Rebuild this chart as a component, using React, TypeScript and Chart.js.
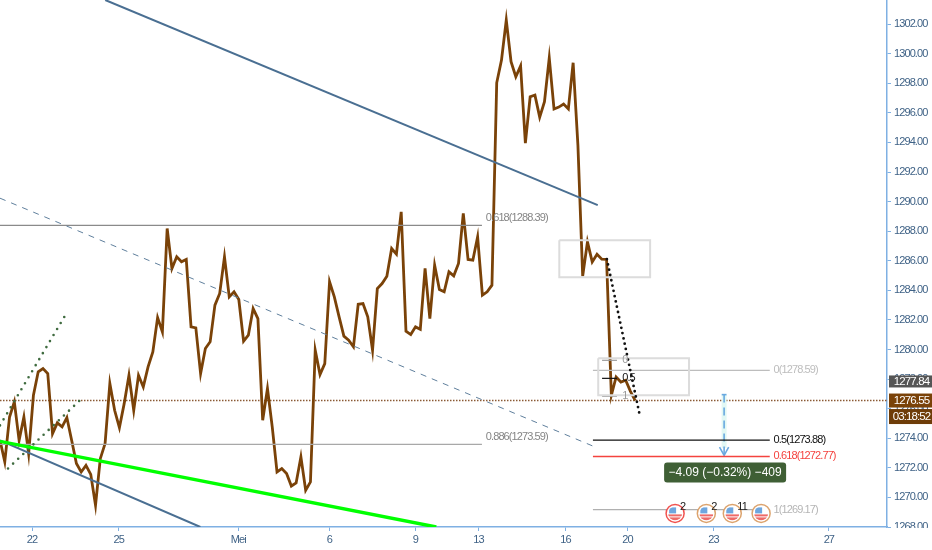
import React, { useEffect, useRef } from "react";
import { Chart, registerables } from "chart.js";

Chart.register(...registerables);

const FONT = '"Liberation Sans", sans-serif';
const TIGHT = "-0.9px";

// Close price, one value per bar
const closes = [
  1273.86, 1272.4, 1275.44, 1276.46, 1273.86, 1275.44, 1272.96, 1276.91, 1278.49, 1278.71,
  1278.37, 1274.31, 1275.04, 1274.77, 1275.4, 1273.86, 1272.29, 1271.72, 1272.17, 1271.56,
  1269.47, 1272.62, 1273.64, 1277.7, 1275.89, 1274.72, 1276.34, 1278.26, 1275.89, 1278.26,
  1277.47, 1278.83, 1279.84, 1282.16, 1281.19, 1288.18, 1285.48, 1286.27, 1285.93, 1286.09,
  1281.53, 1281.46, 1278.37, 1280.07, 1280.52, 1283.0, 1283.79, 1286.27, 1283.56, 1283.9,
  1283.38, 1280.56, 1280.97, 1282.77, 1282.09, 1275.22, 1277.36, 1274.77, 1271.72, 1271.95,
  1271.61, 1270.77, 1270.98, 1272.74, 1270.48, 1271.05, 1279.95, 1278.31, 1279.05, 1284.58,
  1283.56, 1282.21, 1280.9, 1280.63, 1280.18, 1283.06, 1283.11, 1282.21, 1279.95, 1284.12,
  1284.46, 1284.96, 1286.83, 1286.45, 1289.31, 1281.24, 1281.01, 1281.53, 1281.37, 1285.48,
  1282.09, 1285.7, 1284.06, 1283.9, 1285.25, 1284.98, 1285.82, 1289.2, 1286.09, 1286.04,
  1287.62, 1283.67, 1283.9, 1284.35, 1298.03, 1299.57, 1302.28, 1299.46, 1298.44, 1299.18,
  1293.95, 1297.09, 1297.2, 1295.71, 1296.75, 1299.71, 1296.26, 1296.39, 1296.59, 1296.26,
  1299.39, 1293.82, 1284.96, 1287.28, 1285.92, 1286.44, 1286.11, 1286.09, 1276.9, 1278.14,
  1277.8, 1277.92, 1277.17, 1276.55,
];
const barStep = 0.994;

const tickBars = [6.67, 24.69, 49.58, 68.54, 86.46, 99.58, 117.7, 130.6, 148.5, 172.5];
const tickLabels = ["22", "25", "Mei", "6", "9", "13", "16", "20", "23", "27"];

const lastPrice = 1276.55;
const markPrice = 1277.84;
const countdown = "03:18:52";

// Drawing tools, as [bar, price] pairs
const topTrend = [[21.9, 1303.63], [124.4, 1289.76]];
const dashedTrend = [[0, 1290.23], [124, 1273.39]];
const greenTrend = [[0, 1273.79], [90.8, 1268]];
const lowerTrend = [[0, 1273.86], [41.7, 1268]];
const channelUpper = [[0, 1274.87], [13.96, 1282.52]];
const channelLower = [[1.67, 1271.96], [17.3, 1276.77]];
const forecastDots = [[126.3, 1286.11], [133.1, 1275.62]];
const boxUpper = [[116.4, 1287.39], [135.3, 1287.39], [135.3, 1284.89], [116.4, 1284.89], [116.4, 1287.39]];
const boxLower = [[124.5, 1279.41], [143.4, 1279.41], [143.4, 1276.9], [124.5, 1276.9], [124.5, 1279.41]];

const leftFibBars = [0, 100.3];
const leftFibPrices = [1288.39, 1273.59];
const leftFibRatios = ["0.618", "0.886"];
const leftFibColors = ["#8a8a8a", "#a8a8a8"];

const rightFibBars = [123.4, 160.2];
const rightFibPrices = [1278.59, 1273.88, 1272.77, 1269.17];
const rightFibRatios = ["0", "0.5", "0.618", "1"];
const rightFibColors = ["#bdbdbd", "#111111", "#f4433f", "#b0b0b0"];

const miniFibBars = [125.3, 128.4];
const miniFibPrices = [1279.27, 1278.05, 1276.84];
const miniFibRatios = ["0", "0.5", "1"];
const miniFibColors = ["#9a9a9a", "#111111", "#9a9a9a"];

const measureBar = 150.7;
const measureFrom = 1276.95;
const measureTo = 1272.84;
const measureText = "\u22124.09 (\u22120.32%) \u2212409";

const eventBars = [140.5, 147, 152.4, 158.4];
const eventPrice = 1268.92;
const eventColors = ["#f0524f", "#dca36d", "#dca36d", "#dca36d"];
const eventCounts = ["2", "2", "11", ""];

const pts = (a: number[][]) => a.map(([x, y]) => ({ x, y }));

const seg = (data: number[][], color: string, width: number, dash: number[] = [], cap = "butt", order = 1) => ({
  type: "line",
  data: pts(data),
  borderColor: color,
  borderWidth: width,
  borderDash: dash,
  borderCapStyle: cap,
  pointRadius: 0,
  tension: 0,
  fill: false,
  order,
  clip: true,
});

const overlayPlugin = {
  id: "overlay",
  beforeDraw(chart: any) {
    chart.ctx.letterSpacing = TIGHT;
  },
  afterDatasetsDraw(chart: any) {
    const { ctx, scales, chartArea } = chart;
    const X = scales.x;
    const Y = scales.y;
    ctx.save();
    ctx.textBaseline = "middle";
    ctx.textAlign = "left";

    // Fibonacci labels
    ctx.font = `11px ${FONT}`;
    leftFibPrices.forEach((p, i) => {
      ctx.fillStyle = "#858585";
      ctx.fillText(`${leftFibRatios[i]}(${p.toFixed(2)})`, X.getPixelForValue(101.1), Y.getPixelForValue(p) - 7);
    });
    rightFibPrices.forEach((p, i) => {
      ctx.fillStyle = rightFibColors[i] === "#b0b0b0" ? "#b5b5b5" : rightFibColors[i];
      ctx.fillText(`${rightFibRatios[i]}(${p.toFixed(2)})`, X.getPixelForValue(161), Y.getPixelForValue(p));
    });
    miniFibPrices.forEach((p, i) => {
      ctx.fillStyle = miniFibColors[i];
      ctx.fillText(miniFibRatios[i], X.getPixelForValue(129.5), Y.getPixelForValue(p));
    });

    // Measure label
    const mx = X.getPixelForValue(measureBar);
    const my = Y.getPixelForValue(measureTo) + 17;
    ctx.fillStyle = "#3f5f35";
    ctx.beginPath();
    ctx.roundRect(mx - 60, my - 10, 122, 20, 3);
    ctx.fill();
    ctx.fillStyle = "#ffffff";
    ctx.textAlign = "center";
    ctx.letterSpacing = "0px";
    ctx.font = `12px ${FONT}`;
    ctx.fillText(measureText, mx + 1, my);
    ctx.letterSpacing = TIGHT;

    // Economic events
    eventBars.forEach((b, i) => {
      const cx = X.getPixelForValue(b);
      const cy = Y.getPixelForValue(eventPrice);
      ctx.beginPath();
      ctx.arc(cx, cy, 9, 0, Math.PI * 2);
      ctx.fillStyle = "#ffffff";
      ctx.fill();
      ctx.strokeStyle = eventColors[i];
      ctx.lineWidth = 1.5;
      ctx.stroke();
      ctx.save();
      ctx.beginPath();
      ctx.arc(cx, cy, 7, 0, Math.PI * 2);
      ctx.clip();
      ctx.fillStyle = "#6ea6df";
      ctx.fillRect(cx - 6, cy - 6, 7, 6);
      ctx.fillStyle = "#ee6a68";
      ctx.fillRect(cx - 7, cy + 1, 14, 2);
      ctx.fillRect(cx - 7, cy + 4, 14, 3);
      ctx.restore();
      if (eventCounts[i]) {
        ctx.fillStyle = "#222222";
        ctx.font = `11px ${FONT}`;
        ctx.textAlign = "left";
        ctx.fillText(eventCounts[i], cx + 5, cy - 6);
      }
    });

    // Right side price tags
    const right = chartArea.right;
    const W = chart.width;
    ctx.textAlign = "center";
    ctx.font = `11.5px ${FONT}`;
    const tag = (y: number, h: number, bg: string, text: string) => {
      ctx.fillStyle = bg;
      ctx.fillRect(right + 2, y - h / 2, W - right - 2, h);
      ctx.fillStyle = "#ffffff";
      ctx.fillText(text, (right + W) / 2 + 2, y + 0.5);
    };
    const ym = Y.getPixelForValue(markPrice);
    const yl = Y.getPixelForValue(lastPrice);
    tag(ym, 12, "#555555", markPrice.toFixed(2));
    tag(yl, 14, "#7a4208", lastPrice.toFixed(2));
    tag(yl + 16, 15, "#6e3c08", countdown);

    // The lowest tick label is cut off by the pane edge
    ctx.fillStyle = "#ffffff";
    ctx.fillRect(right + 6, chartArea.bottom + 1, W - right, chart.height - chartArea.bottom);
    ctx.restore();
  },
};

export default function App() {
  const ref = useRef<HTMLCanvasElement | null>(null);
  useEffect(() => {
    if (!ref.current) return;
    const lineColor = "#4a6f92";
    const datasets: any[] = [
      {
        ...seg(closes.map((c, i) => [i * barStep, c]), "#7a4208", 2.8, [], "butt", 5),
        borderJoinStyle: "miter",
      },
      seg([[0, lastPrice], [184.6, lastPrice]], "#8a5a35", 1.4, [1.5, 1.5], "butt", 6),
      seg(topTrend, lineColor, 2),
      seg(dashedTrend, "#5f7f9c", 1, [6, 6]),
      seg(greenTrend, "#00ff00", 3.4),
      seg(lowerTrend, lineColor, 2),
      seg(channelUpper, "#3f6b3f", 2.6, [0, 7], "round"),
      seg(channelLower, "#3f6b3f", 2.6, [0, 7], "round"),
      seg(forecastDots, "#111111", 2.8, [0, 5.4], "round"),
      seg(boxUpper, "#dcdcdc", 2),
      seg(boxLower, "#dcdcdc", 2),
      ...leftFibPrices.map((p, i) => seg(leftFibBars.map((b) => [b, p]), leftFibColors[i], 1.3)),
      ...rightFibPrices.map((p, i) => seg(rightFibBars.map((b) => [b, p]), rightFibColors[i], i === 2 ? 1.6 : 1.3)),
      ...miniFibPrices.map((p, i) => seg(miniFibBars.map((b) => [b, p]), miniFibColors[i], 1.2)),
      seg([[measureBar, measureFrom], [measureBar, measureTo + 0.5]], "#e2f8f4", 5, [], "butt", 3),
      seg([[measureBar, measureFrom], [measureBar, measureTo]], "#6aa9e0", 1.6, [8, 5], "butt", 2),
      seg([[measureBar - 0.5, measureFrom], [measureBar + 0.5, measureFrom]], "#6aa9e0", 1.6, [], "butt", 2),
      seg([[measureBar - 0.95, measureTo + 0.56], [measureBar, measureTo], [measureBar + 0.95, measureTo + 0.56]], "#6aa9e0", 1.6, [], "butt", 2),
    ];
    const axisColor = "#7fb0e3";
    const textColor = "#3f6286";
    const chart = new Chart(ref.current, {
      type: "line",
      data: { datasets },
      plugins: [overlayPlugin],
      options: {
        animation: false,
        responsive: false,
        devicePixelRatio: 1,
        layout: { padding: 0 },
        plugins: { legend: { display: false }, tooltip: { enabled: false } },
        scales: {
          x: {
            type: "linear",
            min: 0,
            max: 184.6,
            grid: { drawOnChartArea: false, color: axisColor, tickLength: 4 },
            border: { color: axisColor, width: 1.5 },
            afterBuildTicks: (s: any) => {
              s.ticks = tickBars.map((value) => ({ value }));
            },
            afterFit: (s: any) => {
              s.height = 23;
              s.paddingLeft = 0;
              s.paddingRight = 0;
            },
            ticks: {
              autoSkip: false,
              maxRotation: 0,
              color: textColor,
              padding: 2,
              font: { family: FONT, size: 11 },
              callback: (_v: any, i: number) => tickLabels[i],
            },
          },
          y: {
            type: "linear",
            position: "right",
            min: 1268,
            max: 1303.63,
            grid: { drawOnChartArea: false, color: axisColor, tickLength: 4 },
            border: { color: axisColor, width: 1.5 },
            afterBuildTicks: (s: any) => {
              s.ticks = s.ticks.filter((t: any) => Number.isInteger(t.value) && t.value % 2 === 0);
            },
            afterFit: (s: any) => {
              s.width = 45;
              s.paddingTop = 0;
              s.paddingBottom = 0;
            },
            ticks: {
              stepSize: 2,
              color: textColor,
              padding: 3,
              font: { family: FONT, size: 11 },
              callback: (v: any) => Number(v).toFixed(2),
            },
          },
        },
      },
    } as any);
    return () => chart.destroy();
  }, []);
  return (
    <div style={{ position: "fixed", left: 0, top: 0, width: 932, height: 550, background: "#ffffff" }}>
      <canvas ref={ref} width={932} height={550} style={{ display: "block" }} />
    </div>
  );
}
